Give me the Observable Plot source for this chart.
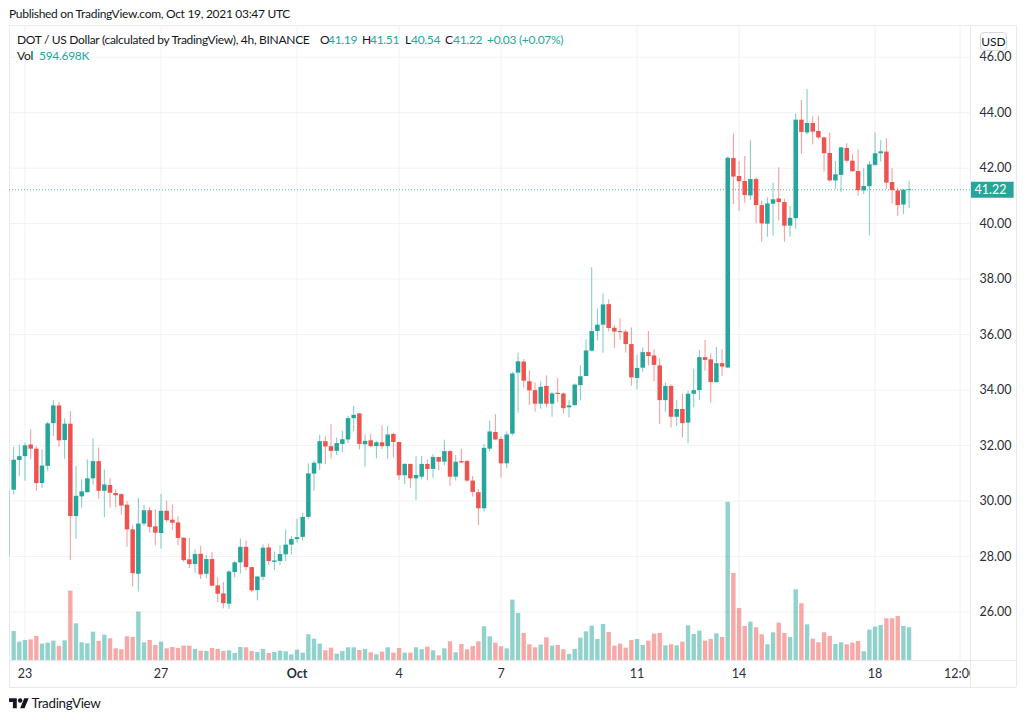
<!DOCTYPE html>
<html><head><meta charset="utf-8">
<script src="https://cdn.jsdelivr.net/npm/d3@7"></script>
<script src="https://cdn.jsdelivr.net/npm/@observablehq/plot@0.6"></script>
<style>
html,body{margin:0;padding:0;background:#fff;}
#page{position:relative;width:1026px;height:720px;overflow:hidden;font-family:Lato,"Noto Sans",sans-serif;color:#131722;}
#page svg{position:absolute;left:0;top:0;background:transparent;}
.t{position:absolute;white-space:pre;line-height:16px;font-size:12px;letter-spacing:-0.3px;}
.g{color:#26a69a;}
</style></head><body><div id="page"></div>
<script>
// Candles, 4h, oldest first
const opens=[30.39,31.46,31.60,32.02,31.87,30.63,31.25,32.79,33.43,32.18,32.77,29.44,30.15,30.30,30.80,31.42,30.35,30.56,30.27,30.23,29.85,28.96,27.36,29.17,29.65,29.07,
28.83,29.63,29.31,29.21,28.66,27.88,27.71,28.08,27.36,27.89,26.94,26.65,26.28,27.42,27.77,28.33,27.60,26.77,27.25,28.31,27.79,27.82,28.06,28.41,28.61,28.69,29.41,
30.97,31.34,32.14,31.96,31.79,32.04,32.20,32.97,33.14,32.03,32.17,31.96,32.10,31.96,32.40,32.11,30.91,31.32,30.80,30.86,31.32,31.14,31.57,31.40,31.78,30.86,31.42,31.43,30.72,30.30,29.72,31.87,32.47,32.22,31.34,
32.41,34.61,35.01,34.30,33.98,33.49,34.13,33.49,33.88,33.86,33.36,33.44,34.16,34.49,35.40,36.11,36.34,37.08,36.23,36.11,36.09,35.64,34.42,34.79,35.35,35.23,34.87,33.62,34.13,33.02,33.30,32.81,33.85,33.98,35.17,35.09,34.27,34.95,
34.80,42.35,41.70,41.52,41.00,41.59,40.65,39.98,40.70,40.89,40.76,39.91,40.18,43.73,43.27,43.61,43.32,43.09,42.53,41.54,41.74,42.71,42.25,41.88,41.18,41.33,42.10,42.52,42.58,41.48,41.18,40.67,41.19];
const highs=[31.94,32.02,32.08,32.57,31.96,31.85,32.84,33.62,33.56,32.96,33.22,31.26,30.76,31.48,32.24,31.91,31.12,30.81,30.41,30.26,29.99,29.11,30.09,29.85,29.77,29.69,
30.24,30.00,29.86,29.43,28.67,28.65,28.24,28.37,28.04,28.14,27.23,27.06,27.49,27.82,28.63,28.56,27.61,27.28,28.42,28.45,28.16,28.39,28.96,28.72,29.34,29.56,31.34,
31.44,32.37,32.32,32.76,32.27,32.51,33.05,33.41,33.15,32.39,32.40,32.15,32.71,32.69,32.45,32.12,31.34,31.33,31.60,31.61,31.48,31.67,31.58,32.19,31.82,31.64,31.86,31.44,30.89,30.41,32.04,32.88,33.12,32.30,32.49,
34.64,35.33,35.10,34.69,34.26,34.30,34.51,33.92,34.42,33.89,33.62,34.22,34.88,35.81,38.41,36.92,37.48,37.25,36.32,36.57,36.17,36.24,35.25,35.52,36.11,35.45,35.14,34.25,34.19,33.62,33.86,33.96,34.75,35.43,35.79,35.31,35.53,35.45,
42.40,43.24,42.24,42.42,42.99,41.65,40.81,40.93,41.46,42.01,40.89,40.62,43.96,44.44,44.84,43.85,43.87,43.12,43.26,42.24,42.75,42.88,42.49,42.66,41.99,42.24,43.27,42.99,43.06,41.98,41.28,41.23,41.51];
const lows=[30.22,30.89,30.71,31.49,30.35,30.46,31.07,32.33,31.94,31.50,27.86,28.62,29.75,30.29,30.57,30.07,29.40,29.75,29.74,29.49,28.33,26.90,26.72,29.08,28.84,28.39,
28.27,29.23,28.93,28.39,27.79,27.56,27.40,27.17,27.20,26.92,26.34,26.11,26.09,27.23,27.37,27.49,26.71,26.40,27.12,27.68,27.49,27.68,27.82,28.05,28.48,28.56,29.34,
30.35,31.10,31.32,31.50,31.64,31.74,32.07,32.50,31.84,31.22,31.92,31.52,31.86,31.50,31.55,30.74,30.59,30.46,30.01,30.76,30.73,30.82,31.09,31.27,30.53,30.72,31.36,30.66,30.14,29.12,29.60,31.77,32.19,30.83,31.16,
32.34,33.17,34.07,33.44,33.20,33.31,33.36,33.02,33.54,33.14,33.00,33.41,33.61,34.48,35.38,35.77,35.33,36.09,35.50,35.79,35.33,34.14,34.01,34.64,34.87,34.30,32.76,33.20,32.63,32.69,32.27,32.06,33.36,33.62,34.68,33.53,34.25,34.49,
34.78,40.69,40.45,40.74,40.83,39.99,39.33,39.51,39.55,40.09,39.33,39.51,39.80,42.49,43.19,42.84,43.02,41.86,41.49,41.24,41.13,42.18,41.86,40.99,41.04,39.55,42.06,42.22,41.23,40.70,40.26,40.33,40.54];
const closes=[31.47,31.60,31.99,31.87,30.63,31.26,32.78,33.43,32.17,32.77,29.44,30.17,30.33,30.80,31.42,30.35,30.58,30.28,30.19,29.82,28.96,27.38,29.17,29.65,29.05,28.84,
29.63,29.29,29.20,28.65,27.85,27.71,28.07,27.34,27.89,26.93,26.64,26.30,27.44,27.77,28.33,27.60,26.76,27.26,28.30,27.82,27.84,28.07,28.41,28.61,28.68,29.41,30.98,
31.36,32.14,31.95,31.79,32.07,32.21,32.97,33.09,32.04,32.15,31.96,32.10,31.96,32.38,32.11,30.91,31.32,30.80,30.92,31.32,31.14,31.57,31.40,31.78,30.86,31.40,31.37,30.72,30.31,29.72,31.90,32.49,32.20,31.34,32.38,
34.58,35.02,34.32,33.97,33.49,34.10,33.49,33.86,33.84,33.33,33.43,34.18,34.48,35.41,36.11,36.34,37.07,36.22,36.09,36.07,35.64,34.44,34.78,35.35,35.21,34.89,33.62,34.13,33.02,33.30,32.79,33.85,33.98,35.17,35.07,34.27,34.95,34.83,
42.36,41.68,41.51,41.01,41.59,40.65,39.99,40.71,40.86,40.76,39.91,40.19,43.73,43.29,43.61,43.30,43.09,42.52,41.54,41.76,42.73,42.25,41.87,41.19,41.34,42.12,42.52,42.59,41.46,41.19,40.65,41.21,41.22];
// Volume, thousands
const volumes=[528,336,366,378,438,300,318,354,258,360,1254,666,324,306,516,348,462,396,216,198,432,420,876,324,366,276,
336,216,240,222,264,264,204,174,168,222,204,168,180,132,240,234,168,150,204,132,150,174,162,108,192,138,468,
390,300,180,228,120,168,234,234,186,204,144,108,156,234,138,222,138,138,234,198,246,180,90,216,342,144,294,198,258,342,612,432,318,252,216,
1092,852,492,288,234,282,414,264,276,198,114,204,408,522,624,384,654,510,264,300,228,366,384,276,354,480,492,270,288,270,336,630,474,534,354,384,486,420,
2856,1572,942,618,696,594,468,288,504,678,492,420,1278,1026,648,390,324,504,438,294,324,288,318,348,162,552,606,636,756,756,798,618,595];
// Bar number counted from 23 Sep 00:00 (six bars per day)
const firstBar=-2;
const bars=d3.range(firstBar,firstBar+closes.length);
const xTicks=[0,24,66,84,108,126,150,165];
const xTickLabels=["23","27","4","7","11","14","18","12:00"];
const monthTicks=[48], monthLabels=["Oct"];
const gridX=[...xTicks,...monthTicks];
const priceTicks=[26,28,30,32,34,36,38,40,42,44,46];
const lastPrice=41.22;
const edgeWick=[{high:30.37,low:27.99}];
const xDomain=[-2.735,166.84];
const priceDomain=[24.24,47.143];
const volumeDomain=[0,11435];

const UP="#26a69a",DOWN="#ef5350";
const table=bars.map((b,i)=>({b,o:opens[i],h:highs[i],l:lows[i],c:closes[i],v:volumes[i],up:closes[i]>=opens[i]}));
const colorOf=d=>d.up?UP:DOWN;
const common={width:1026,height:720,marginLeft:9,marginRight:56,marginTop:25,marginBottom:59.7,
  x:{domain:xDomain,axis:null},
  style:{fontFamily:'Lato,"Noto Sans",sans-serif',fontSize:"12.5px",color:"#131722",background:"transparent"}};

const gridPlot=Plot.plot({...common,y:{domain:priceDomain,axis:null},marks:[
  Plot.ruleX(gridX,{stroke:"#f1f2f5",strokeWidth:1}),
  Plot.ruleY(priceTicks,{stroke:"#f1f2f5",strokeWidth:1}),
  Plot.frame({stroke:"#e9eaee",strokeWidth:1})
]});
const volPlot=Plot.plot({...common,y:{domain:volumeDomain,axis:null},marks:[
  Plot.ruleX(table,{x:"b",y1:0,y2:"v",stroke:colorOf,strokeOpacity:0.5,strokeWidth:4.4})
]});
const pricePlot=Plot.plot({...common,y:{domain:priceDomain,axis:null},marks:[
  Plot.axisY({anchor:"right",ticks:priceTicks,tickSize:0,tickPadding:9,tickFormat:d=>d.toFixed(2),label:null,fontSize:12.5,fill:"#2a2e39"}),
  Plot.axisX({anchor:"bottom",ticks:xTicks,tickSize:0,tickPadding:8,tickFormat:d=>xTickLabels[xTicks.indexOf(d)],label:null,fontSize:12.5,fill:"#2a2e39"}),
  Plot.axisX({anchor:"bottom",ticks:monthTicks,tickSize:0,tickPadding:8,tickFormat:()=>monthLabels[0],label:null,fontSize:12.5,fontWeight:700,fill:"#2a2e39"}),
  Plot.ruleY([lastPrice],{stroke:UP,strokeOpacity:0.85,strokeWidth:1,strokeDasharray:"1,2"}),
  Plot.ruleX(edgeWick,{x:()=>xDomain[0],y1:"low",y2:"high",stroke:UP,strokeOpacity:0.3,strokeWidth:1}),
  Plot.ruleX(table,{x:"b",y1:"l",y2:"h",stroke:colorOf,strokeOpacity:0.6,strokeWidth:1}),
  Plot.ruleX(table,{x:"b",y1:"o",y2:"c",stroke:colorOf,strokeWidth:4.5}),
  Plot.ruleY([lastPrice],{x1:xDomain[1],x2:xDomain[1]+7.7,stroke:UP,strokeWidth:16,clip:false}),
  Plot.text([lastPrice],{y:d=>d,frameAnchor:"right",dx:36,text:d=>d.toFixed(2),fill:"#fff",fontSize:12.5,textAnchor:"end"})
]});
const page=document.getElementById("page");
page.append(gridPlot,volPlot,pricePlot);

// Page furniture: pane border, header, legend, badge, logo
function box(css,html){const d=document.createElement("div");d.style.cssText="position:absolute;"+css;if(html)d.innerHTML=html;page.append(d);return d;}
box("left:970px;top:661px;width:46px;height:26px;background:#fff;");
box("left:969.5px;top:25px;width:0;height:662px;border-left:1px solid #e9eaee;");
box("left:1016px;top:25px;width:0;height:662px;border-left:1px solid #e9eaee;");
box("left:9px;top:25px;width:1007px;height:0;border-top:1px solid #e9eaee;");
box("left:9px;top:687px;width:1007px;height:0;border-top:1px solid #e9eaee;");
box("left:9px;top:660px;width:0;height:27px;border-left:1px solid #e9eaee;");
box("left:9px;top:660px;width:1007px;height:0;border-top:1px solid #e9eaee;");
function txt(x,y,s,cls){const d=document.createElement("div");d.className="t "+(cls||"");d.style.left=x+"px";d.style.top=(y-8)+"px";d.textContent=s;page.append(d);}
txt(9,14,"Published on TradingView.com, Oct 19, 2021 03:47 UTC");
txt(17,39.5,"DOT / US Dollar (calculated by TradingView), 4h, BINANCE");
txt(320,39.5,"O");txt(328,39.5,"41.19","g");
txt(362,39.5,"H");txt(370,39.5,"41.51","g");
txt(405,39.5,"L");txt(411,39.5,"40.54","g");
txt(445,39.5,"C");txt(453,39.5,"41.22","g");
txt(487,39.5,"+0.03 (+0.07%)","g");
txt(17,56,"Vol");txt(39,56,"594.698K","g");
box("left:980px;top:31.5px;width:25px;height:17px;border:1px solid #d6d8e0;border-radius:4px;background:#fff;font-size:12px;line-height:17px;text-align:center;box-sizing:content-box;","USD");
box("left:9.3px;top:695.8px;width:20px;height:16px;",'<svg width="20" height="15.5" viewBox="0 0 36 28" style="position:static"><path fill="#131722" d="M14 22H7V11H0V4h14v18zM28 22h-8l7.5-18h8L28 22z"/><circle cx="20" cy="8" r="4" fill="#131722"/></svg>');
box("left:31.5px;top:694px;font-size:13.4px;letter-spacing:-0.3px;line-height:18px;color:#131722;font-weight:400;white-space:pre;","TradingView");
</script></body></html>
